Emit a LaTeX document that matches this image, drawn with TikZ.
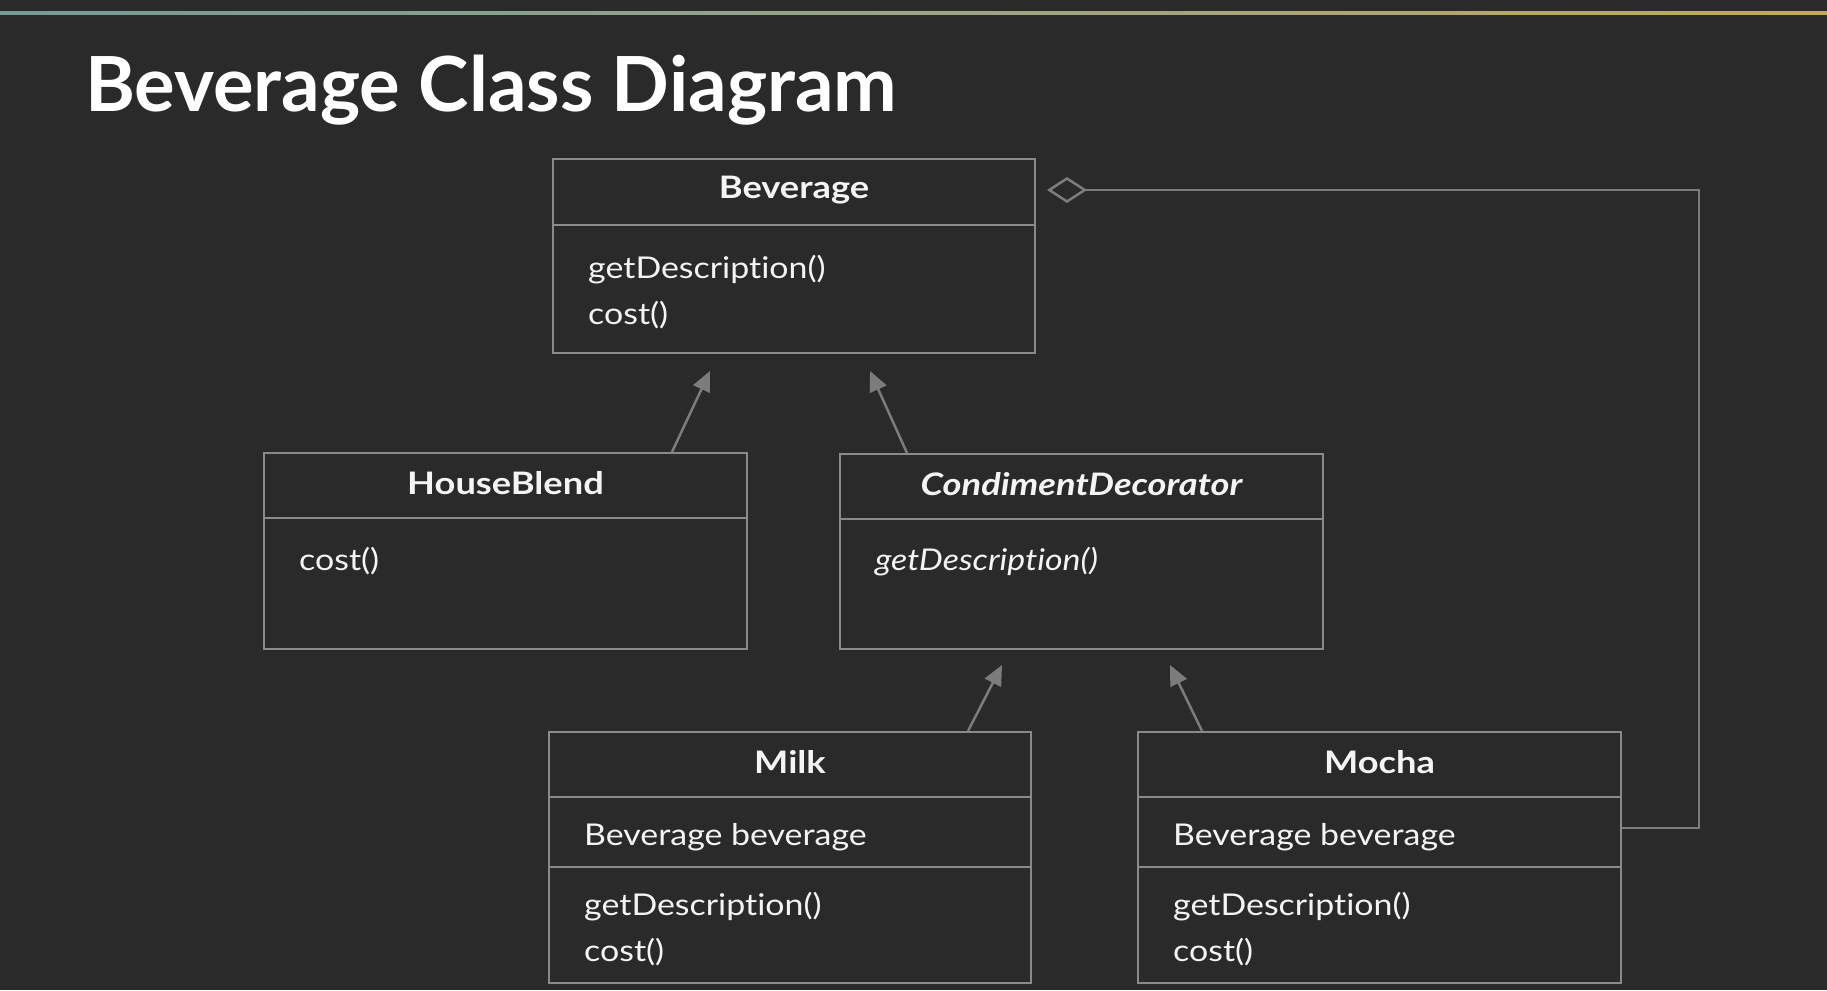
\documentclass[tikz,border=0pt]{standalone}
\usepackage{fontspec}
\setmainfont{Lato}[Ligatures=NoCommon]
\newfontfamily\bodyfont{Lato}[FakeStretch=1.13, Ligatures=NoCommon]
\newfontfamily\headfont{Lato}[FakeStretch=1.17, Ligatures=NoCommon]
\usetikzlibrary{arrows.meta,calc}
\definecolor{bg}{HTML}{2A2A2A}
\definecolor{edge}{HTML}{8A8A8A}
\definecolor{conn}{HTML}{7C7C7C}
\definecolor{txt}{HTML}{F4F4F4}
\definecolor{ca}{HTML}{4B4A7A}
\definecolor{cb}{HTML}{6E9898}
\definecolor{cc}{HTML}{9AA488}
\definecolor{cd}{HTML}{C9A85A}
\definecolor{ce}{HTML}{BDB040}
\pgfdeclarehorizontalshading{topbar}{100bp}{color(0bp)=(ca); color(20bp)=(cb); color(50bp)=(cc); color(80bp)=(cd); color(100bp)=(ce)}
\begin{document}
\begin{tikzpicture}[x=1pt,y=-1pt,
  box/.style={draw=edge, line width=2pt, rectangle, inner sep=0pt, anchor=north west},
  sep/.style={draw=edge, line width=2pt},
  hdr/.style={text=txt, font=\headfont\fontsize{31}{36}\selectfont\bfseries, anchor=base, inner sep=0pt},
  mem/.style={text=txt, font=\bodyfont\fontsize{30}{36}\selectfont, anchor=base west, inner sep=0pt},
  inh/.style={draw=conn, line width=2.5pt, -{Triangle[length=20pt,width=18pt]}},
  agg/.style={draw=conn, line width=2.5pt, -{Diamond[open,length=40pt,width=26pt]}}]
\fill[bg] (0,0) rectangle (1827,990);
\useasboundingbox (0,0) rectangle (1827,990);
\shade[shading=topbar] (0,12) rectangle (1827,15);

\node[anchor=base west, text=white, font=\fontsize{76}{90}\selectfont\bfseries, inner sep=0pt] (title) at (85,111) {Beverage Class Diagram};

% Beverage
\node[box, minimum width=482pt, minimum height=194pt] (bev) at (552,158) {};
\draw[sep] ([yshift=-67pt]bev.north west) -- ([yshift=-67pt]bev.north east);
\node[hdr] (bevH) at ([yshift=-40pt]bev.north) {Beverage};
\node[mem] (bevM1) at ([xshift=36pt,yshift=-120pt]bev.north west) {getDescription()};
\node[mem] (bevM2) at ([xshift=36pt,yshift=-166pt]bev.north west) {cost()};

% HouseBlend
\node[box, minimum width=483pt, minimum height=196pt] (hb) at (263,452) {};
\draw[sep] ([yshift=-66pt]hb.north west) -- ([yshift=-66pt]hb.north east);
\node[hdr] (hbH) at ([yshift=-42pt]hb.north) {HouseBlend};
\node[mem] (hbM1) at ([xshift=36pt,yshift=-118pt]hb.north west) {cost()};

% CondimentDecorator
\node[box, minimum width=483pt, minimum height=195pt] (cdec) at (839,453) {};
\draw[sep] ([yshift=-66pt]cdec.north west) -- ([yshift=-66pt]cdec.north east);
\node[hdr] (cdH) at ([yshift=-42pt]cdec.north) {\itshape CondimentDecorator};
\node[mem] (cdM1) at ([xshift=36pt,yshift=-117pt]cdec.north west) {\itshape getDescription()};

% Milk
\node[box, minimum width=482pt, minimum height=251pt] (milk) at (548,731) {};
\draw[sep] ([yshift=-66pt]milk.north west) -- ([yshift=-66pt]milk.north east);
\draw[sep] ([yshift=-136pt]milk.north west) -- ([yshift=-136pt]milk.north east);
\node[hdr] (milkH) at ([yshift=-42pt]milk.north) {Milk};
\node[mem] (milkA) at ([xshift=36pt,yshift=-114pt]milk.north west) {Beverage beverage};
\node[mem] (milkM1) at ([xshift=36pt,yshift=-184pt]milk.north west) {getDescription()};
\node[mem] (milkM2) at ([xshift=36pt,yshift=-230pt]milk.north west) {cost()};

% Mocha
\node[box, minimum width=483pt, minimum height=251pt] (mocha) at (1137,731) {};
\draw[sep] ([yshift=-66pt]mocha.north west) -- ([yshift=-66pt]mocha.north east);
\draw[sep] ([yshift=-136pt]mocha.north west) -- ([yshift=-136pt]mocha.north east);
\node[hdr] (mochaH) at ([yshift=-42pt]mocha.north) {Mocha};
\node[mem] (mochaA) at ([xshift=36pt,yshift=-114pt]mocha.north west) {Beverage beverage};
\node[mem] (mochaM1) at ([xshift=36pt,yshift=-184pt]mocha.north west) {getDescription()};
\node[mem] (mochaM2) at ([xshift=36pt,yshift=-230pt]mocha.north west) {cost()};

% inheritance arrows
\coordinate (t1) at ([xshift=158pt,yshift=-17pt]bev.south west);
\coordinate (t2) at ([xshift=318pt,yshift=-17pt]bev.south west);
\coordinate (t3) at ([xshift=163pt,yshift=-15pt]cdec.south west);
\coordinate (t4) at ([xshift=331pt,yshift=-15pt]cdec.south west);
\draw[inh] ([xshift=409pt]hb.north west) -- (t1);
\draw[inh] ([xshift=68pt]cdec.north west) -- (t2);
\draw[inh] ([xshift=420pt]milk.north west) -- (t3);
\draw[inh] ([xshift=65pt]mocha.north west) -- (t4);

% aggregation
\coordinate (dtip) at ([xshift=11pt,yshift=-32pt]bev.north east);
\draw[agg] ([yshift=-97pt]mocha.north east) -- ++(77,0) |- (dtip);
\end{tikzpicture}
\end{document}
